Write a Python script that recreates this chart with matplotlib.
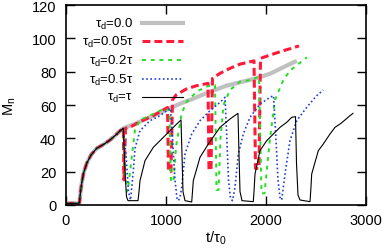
import matplotlib
matplotlib.use("Agg")
import matplotlib.pyplot as plt
import numpy as np

plt.rcParams['font.family'] = ['Liberation Sans', 'DejaVu Sans']
plt.rcParams['mathtext.fontset'] = 'custom'
plt.rcParams['mathtext.rm'] = 'Liberation Sans'

# growth common to every run before the first break
base_t = [0, 125, 135, 145, 157, 175, 207, 250, 307, 380, 440, 507, 540, 573]
base_m = [1, 1, 1.5, 8, 13, 19, 25, 30, 34, 36.5, 39, 42.5, 44.5, 46]

# tau_d = 0.0
gray_t = [700, 850, 1000, 1150, 1260, 1400, 1600, 1800, 1930, 2050, 2150, 2290]
gray_m = [49, 53, 57, 61, 63.5, 67, 71.5, 74.5, 76.5, 79, 82, 86]

# tau_d = 0.05 tau
red_t = [580, 595, 650, 740, 870, 970, 1015, 1025, 1050, 1065, 1100, 1200, 1300,
         1420, 1430, 1450, 1465, 1540, 1640, 1740, 1880, 1895, 1930, 1945, 2073,
         2173, 2273, 2330]
red_m = [15, 46, 47, 50, 53.5, 57, 58.5, 20, 20, 63, 66, 69.5, 71.5,
         73, 21, 21, 76, 79, 82, 84.5, 86.5, 22, 22, 88, 90.6,
         92.6, 94.3, 95.5]

# tau_d = 0.2 tau
green_t = [590, 610, 625, 660, 690, 740, 873, 973, 1035, 1050, 1075, 1100, 1157,
           1207, 1307, 1400, 1490, 1505, 1525, 1545, 1575, 1640, 1740, 1850, 1930,
           1955, 1985, 2040, 2090, 2173, 2240, 2323, 2410]
green_m = [20, 8, 12, 30, 45, 51, 54.6, 57.6, 57, 14, 14, 35, 55,
           62, 68, 71, 72, 9, 9, 40, 60, 69, 74, 75, 77,
           7, 7, 40, 63, 75, 80.6, 84.6, 88.6]

# tau_d = 0.5 tau
blue_t = [600, 625, 645, 660, 675, 690, 740, 840, 940, 1007, 1045, 1065, 1090, 1110,
          1125, 1145, 1157, 1190, 1257, 1340, 1440, 1540, 1590, 1605, 1625, 1645,
          1665, 1690, 1723, 1773, 1840, 1940, 2040, 2075, 2095, 2120, 2140, 2157,
          2190, 2240, 2307, 2407, 2507, 2573]
blue_m = [30, 8, 3, 12, 22, 34, 44.6, 50.6, 53.6, 56.6, 58, 40, 15, 4,
          2.6, 6, 10.6, 30.6, 42.6, 50.6, 56.6, 61.6, 64.6, 45, 15, 4,
          2.6, 10.6, 30.6, 42.6, 52.6, 60.6, 64.6, 65.6, 45, 15, 4.6, 3,
          18.6, 38.6, 50.6, 58.6, 65.6, 69]

# tau_d = tau
black_t = [590, 605, 620, 720, 730, 740, 790, 873, 1007, 1107, 1150, 1160, 1170,
           1190, 1257, 1265, 1273, 1340, 1423, 1540, 1640, 1720, 1730, 1740, 1760,
           1873, 1880, 1890, 1940, 2007, 2073, 2140, 2207, 2257, 2295, 2305, 2320,
           2340, 2440, 2447, 2457, 2523, 2573, 2640, 2690, 2750, 2840, 2870]
black_m = [20, 5, 2.6, 2.6, 8, 14.6, 26.6, 34.6, 42.6, 48.6, 51, 30, 8,
           2.6, 1.8, 8, 14.6, 28.6, 36.6, 46.6, 51.6, 55, 30, 8, 2.6,
           2, 8, 18.6, 32.6, 38.6, 42.6, 46.6, 49.6, 52.6, 53, 25, 6,
           3, 2, 8, 18.6, 32.6, 36.6, 42.6, 46.6, 49, 53.6, 55]

labels = [r'τ$_\mathregular{d}$=0.0', r'τ$_\mathregular{d}$=0.05τ',
          r'τ$_\mathregular{d}$=0.2τ', r'τ$_\mathregular{d}$=0.5τ',
          r'τ$_\mathregular{d}$=τ']

styles = [
    dict(color='#c0c0c0', lw=3.0, ls='-'),
    dict(color='#ff1a3a', lw=2.2, dashes=(2.6, 1.3)),
    dict(color='#20e020', lw=1.4, dashes=(2.0, 2.5)),
    dict(color='#2040d8', lw=1.2, dashes=(1.0, 1.5)),
    dict(color='black', lw=0.8, ls='-'),
]

series = [(gray_t, gray_m), (red_t, red_m), (green_t, green_m),
          (blue_t, blue_m), (black_t, black_m)]

fig = plt.figure(figsize=(3.84, 2.51), dpi=100)
ax = fig.add_axes([66 / 384, 45 / 251, 300 / 384, 200 / 251])

for (t, m), st in zip(series, styles):
    ax.plot(base_t + t, base_m + m, **st)

# gnuplot-style key: text on the left, sample on the right
key_y = [0.91, 0.8185, 0.725, 0.63, 0.5385]
for lab, st, yk in zip(labels, styles, key_y):
    ax.text(0.224, yk, lab, transform=ax.transAxes, ha='right', va='center',
            fontsize=9.5)
    ax.plot([0.252, 0.39], [yk, yk], transform=ax.transAxes, **st)

ax.set_xlim(0, 3000)
ax.set_ylim(0, 120)
ax.set_xticks([0, 1000, 2000, 3000])
ax.set_yticks([0, 20, 40, 60, 80, 100, 120])
ax.tick_params(direction='in', length=6.5, width=1, top=True, right=True,
               labelsize=10.5)
ax.tick_params(axis='x', pad=6)
ax.tick_params(axis='y', pad=7)
for s in ax.spines.values():
    s.set_linewidth(1.2)

ax.set_xlabel(r't/τ$_\mathregular{0}$', fontsize=10.5, labelpad=1)
ax.set_ylabel(r'M$_\mathregular{n}$', fontsize=10.5, labelpad=10)

fig.savefig('out.png', dpi=100)
